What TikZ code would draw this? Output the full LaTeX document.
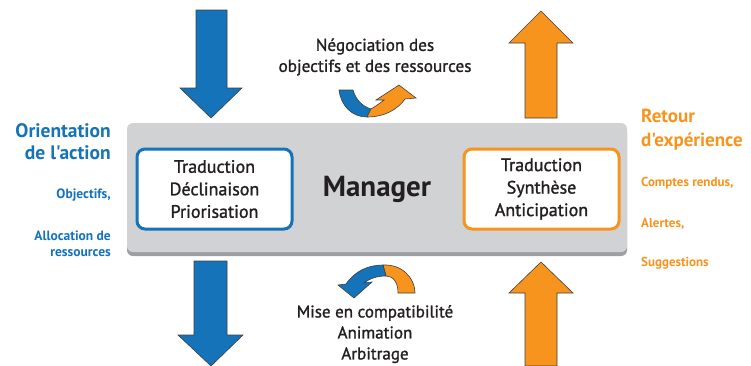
\documentclass[tikz,border=0pt]{standalone}
\usepackage{fontspec}
\setmainfont{PT Sans}
\newfontfamily\semib[FakeBold=1.3]{PT Sans}
\newfontfamily\labf{PT Sans}
\definecolor{myblue}{HTML}{1473B9}
\definecolor{myorange}{HTML}{F7941D}
\definecolor{boxgray}{HTML}{D1D2D4}
\definecolor{shadowgray}{HTML}{9D9FA2}
\definecolor{txt}{HTML}{231F20}
\definecolor{edge}{HTML}{404040}
\tikzset{
  bigarrow/.style={draw=edge, line width=0.6pt, line join=miter},
  innerbox/.style={draw, fill=white, line width=3pt, rounded corners=8pt},
  lbl/.style={text=txt, align=center, inner sep=0pt},
}
\begin{document}
\begin{tikzpicture}[x=1pt,y=-1pt]
\useasboundingbox (0,0) rectangle (751,365);
% big vertical arrows
\draw[bigarrow, fill=myblue] (196,10) -- (227,10) -- (227,88) -- (242,88) -- (211,118) -- (180,88) -- (196,88) -- cycle;
\draw[bigarrow, fill=myblue] (194,261) -- (227,261) -- (227,335) -- (243,335) -- (211,366) -- (178,335) -- (194,335) -- cycle;
\draw[bigarrow, fill=myorange] (525,118) -- (557,118) -- (557,43) -- (573,43) -- (541,11) -- (509,43) -- (525,43) -- cycle;
\draw[bigarrow, fill=myorange] (525,366) -- (557,366) -- (557,293) -- (573,293) -- (541,262) -- (509,293) -- (525,293) -- cycle;
% manager panel
\fill[shadowgray, rounded corners=6pt] (127,127) rectangle (627,256);
\fill[boxgray, rounded corners=6pt] (127,123) rectangle (627,252);
\node[innerbox, draw=myblue, minimum width=155pt, minimum height=80pt] (left) at (214.5,189) {};
\node[innerbox, draw=myorange, minimum width=155pt, minimum height=80pt] (right) at (541.5,189) {};
\node[lbl, font=\semib\fontsize{18}{22.5}\selectfont] (lt) at (left) {Traduction\\Déclinaison\\Priorisation};
\node[lbl, font=\semib\fontsize{18}{22.5}\selectfont] (rt) at (right) {Traduction\\Synthèse\\Anticipation};
\node[lbl, font=\fontsize{29}{32}\selectfont\bfseries] (mgr) at (377,189) {Manager};
% top curved arrow
\draw[bigarrow, fill=myblue] (339,90) -- (353,90) .. controls (356,100) and (362,106) .. (371,109) -- (367,117) .. controls (352,117) and (341,106) .. (339,90) -- cycle;
\draw[bigarrow, fill=myorange] (371,109) .. controls (376,106) and (380,103) .. (384,100) -- (376,100) -- (399,85) -- (416,98) -- (405,99) .. controls (398,109) and (385,117) .. (367,117) -- cycle;
% bottom curved arrow
\draw[bigarrow, fill=myorange] (398,293) .. controls (398,282) and (393,276) .. (386,276) -- (383,265) .. controls (402,264) and (415,278) .. (415,293) -- cycle;
\draw[bigarrow, fill=myblue] (338,285) -- (346,284) .. controls (355,271) and (368,265) .. (383,265) -- (386,276) .. controls (376,276) and (369,279) .. (364,283) -- (372,282) -- (354,298) -- cycle;
% texts
\node[lbl, font=\semib\fontsize{17.2}{21}\selectfont] (neg) at (375,57) {Négociation des\\objectifs et des ressources};
\node[lbl, font=\semib\fontsize{17}{21}\selectfont, anchor=north] (mise) at (375,305) {Mise en compatibilité\\Animation\\Arbitrage};
% left side
\node[lbl, text=myblue, align=right, anchor=east, font=\labf\fontsize{19.5}{22}\selectfont\bfseries] (orient) at (111,142) {Orientation\\de l'action};
\node[lbl, text=myblue, align=right, anchor=east, font=\labf\fontsize{13.5}{16}\selectfont\bfseries] (obj) at (111,195) {Objectifs,};
\node[lbl, text=myblue, align=right, anchor=east, font=\labf\fontsize{13.5}{16}\selectfont\bfseries] (alloc) at (111,244) {Allocation de\\ressources};
% right side
\node[lbl, text=myorange, align=left, anchor=west, font=\labf\fontsize{19}{24}\selectfont\bfseries] (retour) at (641,130) {Retour\\d'expérience};
\node[lbl, text=myorange, anchor=west, font=\labf\fontsize{13}{15}\selectfont\bfseries] (cr) at (641,183) {Comptes rendus,};
\node[lbl, text=myorange, anchor=west, font=\labf\fontsize{13}{15}\selectfont\bfseries] (al) at (641,224) {Alertes,};
\node[lbl, text=myorange, anchor=west, font=\labf\fontsize{13}{15}\selectfont\bfseries] (sug) at (641,263) {Suggestions};
\end{tikzpicture}
\end{document}
